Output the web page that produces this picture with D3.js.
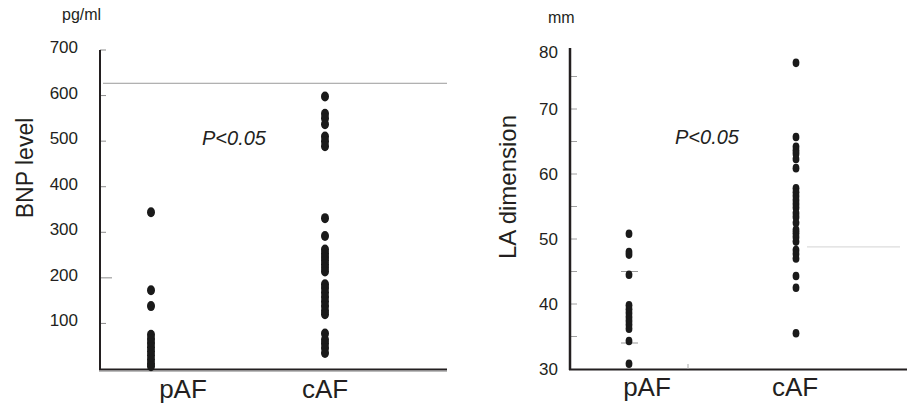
<!DOCTYPE html>
<html><head><meta charset="utf-8">
<script src="https://cdn.jsdelivr.net/npm/d3@7"></script>
<style>body{margin:0;background:#fff}svg{display:block}text{font-family:"Liberation Sans",Arial,sans-serif;fill:#231f20}</style>
</head><body><svg id="c" width="907" height="405"></svg>
<script>
// ---- data ----
const categories = ["pAF", "cAF"];
const bnpPAF = [344, 173, 138, 75, 66, 57, 48, 39, 30, 21, 12, 6];
const bnpCAF = [598, 560, 550, 537, 510, 500, 489, 331, 292, 262, 254, 246, 238, 230, 222, 214, 186, 178, 168, 158, 148, 138, 128, 120, 78, 64, 56, 46, 35];
const laPAF = [50.8, 48, 47.6, 44.5, 39.8, 39.2, 38.6, 38, 37.4, 36.8, 36.2, 34.3, 30.8];
const laCAF = [77.1, 65.7, 64.2, 63.6, 63.1, 62.3, 60.9, 57.8, 57.2, 56.6, 56, 55.4, 54.8, 54, 53.4, 52.5, 51.4, 50.9, 50.3, 49.6, 48.3, 47.7, 47.0, 44.3, 42.5, 35.5];
const bnpTicks = [100, 200, 300, 400, 500, 600, 700];
const laTicks = [30, 40, 50, 60, 70, 80];
const laMinorTicks = [35, 45, 55, 65, 75];
const bnpRefLine = 627;
const laRefLine = 48.8;
const laPafMarks = [45, 34];

const svg = d3.select("#c");

// ---------- LEFT PANEL ----------
const yL = d3.scaleLinear().domain([0, 700]).range([369, 50]);
const xL = d3.scalePoint().domain(categories).range([151, 325]);
const gL = svg.append("g");

gL.append("line").attr("x1", 103).attr("x2", 447)
  .attr("y1", yL(bnpRefLine)).attr("y2", yL(bnpRefLine))
  .attr("stroke", "#9a9a9a").attr("stroke-width", 1);

gL.selectAll(".tk").data(bnpTicks).join("line")
  .attr("x1", 100).attr("x2", d => d === 200 ? 112 : 106)
  .attr("y1", d => yL(d)).attr("y2", d => yL(d))
  .attr("stroke", "#8c8c8c").attr("stroke-width", 1);
gL.selectAll(".tl").data(bnpTicks).join("text")
  .attr("x", 78).attr("y", d => yL(d) - 3).attr("dy", "0.35em")
  .attr("text-anchor", "end").attr("font-size", 17).text(d => d);

gL.append("line").attr("x1", 100).attr("x2", 100).attr("y1", 50).attr("y2", 370)
  .attr("stroke", "#231f20").attr("stroke-width", 2);
gL.append("line").attr("x1", 99).attr("x2", 447).attr("y1", 369.5).attr("y2", 369.5)
  .attr("stroke", "#231f20").attr("stroke-width", 2);
gL.append("line").attr("x1", 99).attr("x2", 447).attr("y1", 371.5).attr("y2", 371.5)
  .attr("stroke", "#bbb").attr("stroke-width", 1);

const bnpData = [].concat(bnpPAF.map(v => ({c: "pAF", v})), bnpCAF.map(v => ({c: "cAF", v})));
gL.selectAll(".d").data(bnpData).join("ellipse")
  .attr("cx", d => xL(d.c)).attr("cy", d => yL(d.v))
  .attr("rx", 4).attr("ry", 5).attr("fill", "#1a1a1a");

gL.append("text").attr("x", 62).attr("y", 20).attr("font-size", 16).text("pg/ml");
gL.append("text").attr("transform", "translate(33,168) rotate(-90)")
  .attr("text-anchor", "middle").attr("font-size", 23).text("BNP level");
gL.append("text").attr("x", 202).attr("y", 145).attr("font-size", 20)
  .attr("font-style", "italic").text("P<0.05");
const labelDxL = [32, 0];
gL.selectAll(".xl").data(categories).join("text")
  .attr("x", (d, i) => xL(d) + labelDxL[i]).attr("y", 398)
  .attr("text-anchor", "middle").attr("font-size", 26).text(d => d);

// ---------- RIGHT PANEL ----------
const yR = d3.scaleLinear().domain([30, 80]).range([369, 44]);
const xR = d3.scalePoint().domain(categories).range([629, 796]);
const gR = svg.append("g");

gR.append("line").attr("x1", 807).attr("x2", 900)
  .attr("y1", yR(laRefLine)).attr("y2", yR(laRefLine))
  .attr("stroke", "#dcdcdc").attr("stroke-width", 1.2);

gR.selectAll(".tk").data(laTicks.concat(laMinorTicks).filter(d => d > 30 && d < 80)).join("line")
  .attr("x1", 570).attr("x2", 577)
  .attr("y1", d => yR(d)).attr("y2", d => yR(d))
  .attr("stroke", "#a0a0a0").attr("stroke-width", 1);
gR.selectAll(".tl").data(laTicks).join("text")
  .attr("x", 558).attr("y", d => d === 80 ? yR(d) + 8 : yR(d)).attr("dy", "0.35em")
  .attr("text-anchor", "end").attr("font-size", 17).text(d => d);

gR.selectAll(".pm").data(laPafMarks).join("line")
  .attr("x1", xR("pAF") - 8).attr("x2", xR("pAF") + 9)
  .attr("y1", d => yR(d)).attr("y2", d => yR(d))
  .attr("stroke", "#999").attr("stroke-width", 1);

gR.append("line").attr("x1", 570).attr("x2", 570).attr("y1", 48).attr("y2", 370)
  .attr("stroke", "#231f20").attr("stroke-width", 2.5);
gR.append("line").attr("x1", 569).attr("x2", 907).attr("y1", 369.5).attr("y2", 369.5)
  .attr("stroke", "#231f20").attr("stroke-width", 2);
gR.append("line").attr("x1", 688).attr("x2", 688).attr("y1", 364).attr("y2", 369)
  .attr("stroke", "#aaa").attr("stroke-width", 1);

const laData = [].concat(laPAF.map(v => ({c: "pAF", v})), laCAF.map(v => ({c: "cAF", v})));
gR.selectAll(".d").data(laData).join("ellipse")
  .attr("cx", d => xR(d.c)).attr("cy", d => yR(d.v))
  .attr("rx", 3.4).attr("ry", 4.3).attr("fill", "#1a1a1a");

gR.append("text").attr("x", 548).attr("y", 23).attr("font-size", 16).text("mm");
gR.append("text").attr("transform", "translate(516,187) rotate(-90)")
  .attr("text-anchor", "middle").attr("font-size", 24).text("LA dimension");
gR.append("text").attr("x", 675).attr("y", 144).attr("font-size", 20)
  .attr("font-style", "italic").text("P<0.05");
const labelDxR = [18, -1];
gR.selectAll(".xl").data(categories).join("text")
  .attr("x", (d, i) => xR(d) + labelDxR[i]).attr("y", 396)
  .attr("text-anchor", "middle").attr("font-size", 26).text(d => d);
</script></body></html>
